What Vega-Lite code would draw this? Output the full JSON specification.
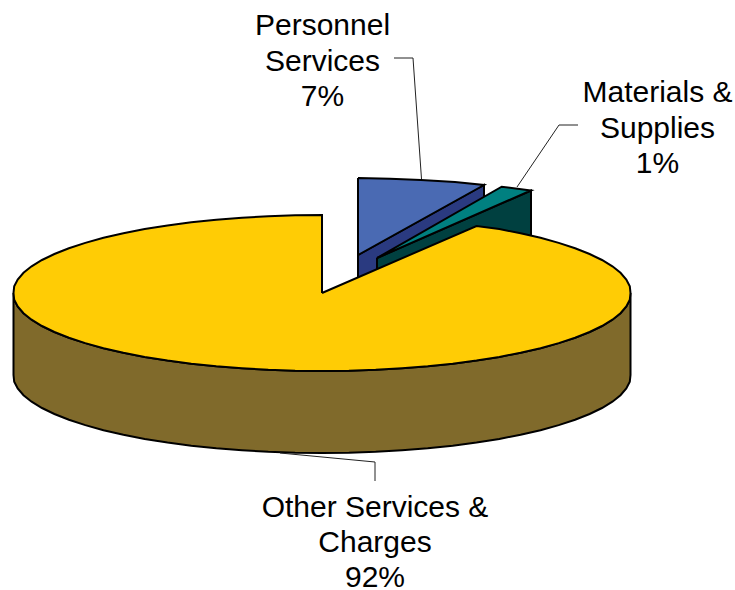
{
"$schema":"https://vega.github.io/schema/vega-lite/v6.json",
"width":735,"height":590,"padding":0,"autosize":{"type":"none"},
"background":"white",
"view":{"stroke":null},
"datasets":{
"slices":[
{"part":"Personnel wall","seq":1,"x":358,"y":255},{"part":"Personnel wall","seq":2,"x":484,"y":185},{"part":"Personnel wall","seq":3,"x":484,"y":245},{"part":"Personnel wall","seq":4,"x":358,"y":295},{"part":"Personnel wall","seq":5,"x":358,"y":255},
{"part":"Personnel top","seq":1,"x":358,"y":178},{"part":"Personnel top","seq":2,"x":390,"y":178.7},{"part":"Personnel top","seq":3,"x":421,"y":180},{"part":"Personnel top","seq":4,"x":455,"y":182},{"part":"Personnel top","seq":5,"x":484,"y":185},{"part":"Personnel top","seq":6,"x":358,"y":255},{"part":"Personnel top","seq":7,"x":358,"y":178},
{"part":"Materials wall","seq":1,"x":377,"y":258},{"part":"Materials wall","seq":2,"x":531,"y":190.5},{"part":"Materials wall","seq":3,"x":531,"y":250},{"part":"Materials wall","seq":4,"x":377,"y":295},{"part":"Materials wall","seq":5,"x":377,"y":258},
{"part":"Materials top","seq":1,"x":377,"y":258},{"part":"Materials top","seq":2,"x":501.7,"y":186.7},{"part":"Materials top","seq":3,"x":531,"y":190.5},{"part":"Materials top","seq":4,"x":377,"y":258}
],
"rim":[
{"x":13.5,"top":293,"bottom":375},{"x":14.2,"top":299.8,"bottom":381.8},{"x":17.7,"top":306.5,"bottom":388.5},{"x":23.5,"top":313.2,"bottom":395.2},{"x":31.6,"top":319.7,"bottom":401.7},{"x":42,"top":326,"bottom":408},{"x":54.4,"top":332,"bottom":414},{"x":68.9,"top":337.8,"bottom":419.8},{"x":85.3,"top":343.1,"bottom":425.1},{"x":103.5,"top":348.2,"bottom":430.2},{"x":123.4,"top":352.7,"bottom":434.7},{"x":144.7,"top":356.9,"bottom":438.9},{"x":167.5,"top":360.5,"bottom":442.5},{"x":191.3,"top":363.7,"bottom":445.7},{"x":216.3,"top":366.3,"bottom":448.3},{"x":242,"top":368.3,"bottom":450.3},{"x":268.3,"top":369.8,"bottom":451.8},{"x":295.1,"top":370.7,"bottom":452.7},{"x":322,"top":371,"bottom":453},{"x":348.9,"top":370.7,"bottom":452.7},{"x":375.7,"top":369.8,"bottom":451.8},{"x":402,"top":368.3,"bottom":450.3},{"x":427.7,"top":366.3,"bottom":448.3},{"x":452.7,"top":363.7,"bottom":445.7},{"x":476.5,"top":360.5,"bottom":442.5},{"x":499.3,"top":356.9,"bottom":438.9},{"x":520.6,"top":352.7,"bottom":434.7},{"x":540.5,"top":348.2,"bottom":430.2},{"x":558.7,"top":343.1,"bottom":425.1},{"x":575.1,"top":337.8,"bottom":419.8},{"x":589.6,"top":332,"bottom":414},{"x":602,"top":326,"bottom":408},{"x":612.4,"top":319.7,"bottom":401.7},{"x":620.5,"top":313.2,"bottom":395.2},{"x":626.3,"top":306.5,"bottom":388.5},{"x":629.8,"top":299.8,"bottom":381.8},{"x":630.5,"top":293,"bottom":375}
],
"main":[
{"part":"Other top","seq":1,"x":322,"y":293},{"part":"Other top","seq":2,"x":476.5,"y":226},{"part":"Other top","seq":3,"x":499.3,"y":229.1},{"part":"Other top","seq":4,"x":520.6,"y":233.3},{"part":"Other top","seq":5,"x":540.5,"y":237.8},{"part":"Other top","seq":6,"x":558.7,"y":242.9},{"part":"Other top","seq":7,"x":575.1,"y":248.2},{"part":"Other top","seq":8,"x":589.6,"y":254},{"part":"Other top","seq":9,"x":602,"y":260},{"part":"Other top","seq":10,"x":612.4,"y":266.3},{"part":"Other top","seq":11,"x":620.5,"y":272.8},{"part":"Other top","seq":12,"x":626.3,"y":279.5},{"part":"Other top","seq":13,"x":629.8,"y":286.2},{"part":"Other top","seq":14,"x":630.5,"y":293},
{"part":"Other top","seq":15,"x":629.8,"y":299.8},{"part":"Other top","seq":16,"x":626.3,"y":306.5},{"part":"Other top","seq":17,"x":620.5,"y":313.2},{"part":"Other top","seq":18,"x":612.4,"y":319.7},{"part":"Other top","seq":19,"x":602,"y":326},{"part":"Other top","seq":20,"x":589.6,"y":332},{"part":"Other top","seq":21,"x":575.1,"y":337.8},{"part":"Other top","seq":22,"x":558.7,"y":343.1},{"part":"Other top","seq":23,"x":540.5,"y":348.2},{"part":"Other top","seq":24,"x":520.6,"y":352.7},{"part":"Other top","seq":25,"x":499.3,"y":356.9},{"part":"Other top","seq":26,"x":476.5,"y":360.5},{"part":"Other top","seq":27,"x":452.7,"y":363.7},{"part":"Other top","seq":28,"x":427.7,"y":366.3},{"part":"Other top","seq":29,"x":402,"y":368.3},{"part":"Other top","seq":30,"x":375.7,"y":369.8},{"part":"Other top","seq":31,"x":348.9,"y":370.7},{"part":"Other top","seq":32,"x":322,"y":371},
{"part":"Other top","seq":33,"x":295.1,"y":370.7},{"part":"Other top","seq":34,"x":268.3,"y":369.8},{"part":"Other top","seq":35,"x":242,"y":368.3},{"part":"Other top","seq":36,"x":216.3,"y":366.3},{"part":"Other top","seq":37,"x":191.3,"y":363.7},{"part":"Other top","seq":38,"x":167.5,"y":360.5},{"part":"Other top","seq":39,"x":144.7,"y":356.9},{"part":"Other top","seq":40,"x":123.4,"y":352.7},{"part":"Other top","seq":41,"x":103.5,"y":348.2},{"part":"Other top","seq":42,"x":85.3,"y":343.1},{"part":"Other top","seq":43,"x":68.9,"y":337.8},{"part":"Other top","seq":44,"x":54.4,"y":332},{"part":"Other top","seq":45,"x":42,"y":326},{"part":"Other top","seq":46,"x":31.6,"y":319.7},{"part":"Other top","seq":47,"x":23.5,"y":313.2},{"part":"Other top","seq":48,"x":17.7,"y":306.5},{"part":"Other top","seq":49,"x":14.2,"y":299.8},{"part":"Other top","seq":50,"x":13.5,"y":293},
{"part":"Other top","seq":51,"x":14.2,"y":286.2},{"part":"Other top","seq":52,"x":17.7,"y":279.5},{"part":"Other top","seq":53,"x":23.5,"y":272.8},{"part":"Other top","seq":54,"x":31.6,"y":266.3},{"part":"Other top","seq":55,"x":42,"y":260},{"part":"Other top","seq":56,"x":54.4,"y":254},{"part":"Other top","seq":57,"x":68.9,"y":248.2},{"part":"Other top","seq":58,"x":85.3,"y":242.9},{"part":"Other top","seq":59,"x":103.5,"y":237.8},{"part":"Other top","seq":60,"x":123.4,"y":233.3},{"part":"Other top","seq":61,"x":144.7,"y":229.1},{"part":"Other top","seq":62,"x":167.5,"y":225.5},{"part":"Other top","seq":63,"x":191.3,"y":222.3},{"part":"Other top","seq":64,"x":216.3,"y":219.7},{"part":"Other top","seq":65,"x":242,"y":217.7},{"part":"Other top","seq":66,"x":268.3,"y":216.2},{"part":"Other top","seq":67,"x":295.1,"y":215.3},{"part":"Other top","seq":68,"x":322,"y":215},{"part":"Other top","seq":69,"x":322,"y":293}
],
"leaders":[
{"slice":"Personnel Services","seq":1,"x":394,"y":58},{"slice":"Personnel Services","seq":2,"x":413,"y":58},{"slice":"Personnel Services","seq":3,"x":421.5,"y":179},
{"slice":"Materials & Supplies","seq":1,"x":578,"y":125},{"slice":"Materials & Supplies","seq":2,"x":559,"y":125},{"slice":"Materials & Supplies","seq":3,"x":517,"y":187},
{"slice":"Other Services & Charges","seq":1,"x":375,"y":481},{"slice":"Other Services & Charges","seq":2,"x":375,"y":462},{"slice":"Other Services & Charges","seq":3,"x":280,"y":453}
],
"labels":[
{"text":"Personnel","x":322.5,"y":34.5},{"text":"Services","x":322.5,"y":70.5},{"text":"7%","x":322.5,"y":106},
{"text":"Materials &","x":657.5,"y":102},{"text":"Supplies","x":657.5,"y":137.5},{"text":"1%","x":657.5,"y":173},
{"text":"Other Services &","x":375,"y":516.5},{"text":"Charges","x":375,"y":552},{"text":"92%","x":375,"y":587}
]
},
"encoding":{
"x":{"field":"x","type":"quantitative","axis":null,"scale":{"domain":[0,735],"nice":false,"zero":false}}
},
"layer":[
{"data":{"name":"slices"},
 "mark":{"type":"line","stroke":"black","strokeWidth":2,"strokeJoin":"miter"},
 "encoding":{
  "y":{"field":"y","type":"quantitative","axis":null,"scale":{"domain":[590,0],"nice":false,"zero":false}},
  "order":{"field":"seq","type":"quantitative"},
  "detail":{"field":"part"},
  "fill":{"field":"part","type":"nominal","legend":null,"scale":{"domain":["Personnel wall","Personnel top","Materials wall","Materials top"],"range":["#2A3A80","#4A6AB3","#004040","#008080"]}}
 }},
{"data":{"name":"rim"},
 "mark":{"type":"area","color":"#806A2B","stroke":"black","strokeWidth":2},
 "encoding":{
  "y":{"field":"top","type":"quantitative","axis":null,"scale":{"domain":[590,0],"nice":false,"zero":false}},
  "y2":{"field":"bottom"}
 }},
{"data":{"name":"main"},
 "mark":{"type":"line","stroke":"black","strokeWidth":2,"strokeJoin":"miter","fill":"#FFCC05"},
 "encoding":{
  "y":{"field":"y","type":"quantitative","axis":null,"scale":{"domain":[590,0],"nice":false,"zero":false}},
  "order":{"field":"seq","type":"quantitative"}
 }},
{"data":{"name":"leaders"},
 "mark":{"type":"line","stroke":"#222222","strokeWidth":1,"fill":null},
 "encoding":{
  "y":{"field":"y","type":"quantitative","axis":null,"scale":{"domain":[590,0],"nice":false,"zero":false}},
  "order":{"field":"seq","type":"quantitative"},
  "detail":{"field":"slice"}
 }},
{"data":{"name":"labels"},
 "mark":{"type":"text","font":"Liberation Sans","fontSize":30,"align":"center","baseline":"alphabetic","color":"black"},
 "encoding":{
  "y":{"field":"y","type":"quantitative","axis":null,"scale":{"domain":[590,0],"nice":false,"zero":false}},
  "text":{"field":"text"}
 }}
]
}
